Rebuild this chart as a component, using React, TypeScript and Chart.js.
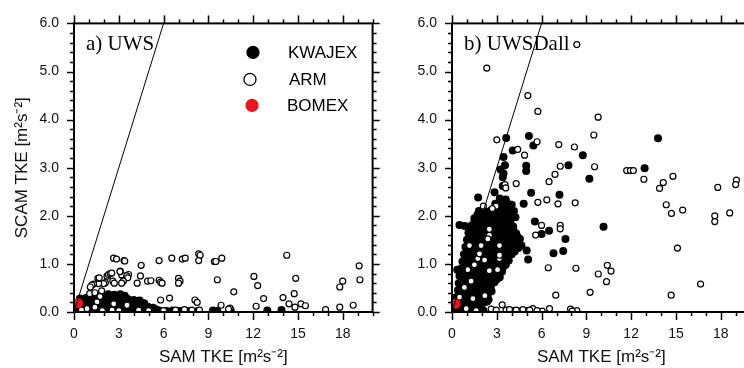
import React, { useEffect, useRef } from 'react';
import { Chart, registerables } from 'chart.js';

Chart.register(...registerables);

// ---------- data ----------
const X_TICKS = [0, 3, 6, 9, 12, 15, 18];
const Y_TICKS = [0, 1, 2, 3, 4, 5, 6];
const X_MIN = 0;
const X_MAX = 20;
const Y_MIN = 0;
const Y_MAX = 6;
const X_TITLE = 'SAM TKE [m²s⁻²]';
const Y_TITLE = 'SCAM TKE [m²s⁻²]';
const PANEL_TITLES = ['a) UWS', 'b) UWSDall'];
const LEGEND_LABELS = ['KWAJEX', 'ARM', 'BOMEX'];
const ONE_TO_ONE: [number, number][] = [[0, 0], [6, 6]];

const UWS_KWAJEX: [number, number][] = [
  [0.1, 0.03], [0.5, 0.02], [0.9, 0.04], [1.3, 0.03], [1.7, 0.02], [2.1, 0.04], [2.5, 0.03], [2.9, 0.02],
  [3.3, 0.04], [3.7, 0.03], [4.1, 0.02], [4.5, 0.04], [4.9, 0.03], [5.3, 0.02], [5.7, 0.03], [6.2, 0.02],
  [6.6, 0.03], [7.1, 0.02], [7.6, 0.02], [8.3, 0.02], [9.3, 0.03], [9.6, 0.02], [10.5, 0.03], [12.95, 0.03], [13.9, 0.04],
  [0.3, 0.07], [0.7, 0.08], [1.1, 0.07], [1.5, 0.08], [1.9, 0.07], [2.3, 0.08], [2.7, 0.07], [3.1, 0.08],
  [3.5, 0.07], [3.9, 0.08], [4.3, 0.07], [4.7, 0.08], [5.1, 0.06], [5.5, 0.05],
  [0.15, 0.12], [0.55, 0.11], [0.95, 0.13], [1.35, 0.12], [1.75, 0.11], [2.15, 0.13], [2.55, 0.12], [2.95, 0.11],
  [3.35, 0.13], [3.75, 0.12], [4.15, 0.11], [4.55, 0.13], [4.95, 0.11], [5.3, 0.09],
  [0.35, 0.16], [0.75, 0.17], [1.15, 0.16], [1.55, 0.17], [1.95, 0.16], [2.35, 0.17], [2.75, 0.16], [3.15, 0.17],
  [3.55, 0.16], [3.95, 0.17], [4.35, 0.16], [4.75, 0.14],
  [0.3, 0.21], [0.7, 0.2], [1.1, 0.22], [1.5, 0.21], [1.9, 0.2], [2.3, 0.22], [2.7, 0.21], [3.1, 0.22],
  [3.5, 0.2], [3.9, 0.21], [4.3, 0.22], [4.7, 0.18],
  [0.55, 0.25], [0.95, 0.26], [1.35, 0.25], [1.75, 0.26], [2.15, 0.25], [2.55, 0.26], [2.95, 0.25], [3.35, 0.26],
  [3.75, 0.24], [4.15, 0.23],
  [0.4, 0.28], [0.8, 0.29], [1.2, 0.28], [1.6, 0.3], [2.0, 0.29], [2.4, 0.31], [2.8, 0.3], [3.2, 0.29],
  [3.6, 0.27], [4.0, 0.25], [4.4, 0.24],
  [1.0, 0.32], [1.4, 0.33], [2.1, 0.33], [2.5, 0.34], [2.9, 0.33], [3.3, 0.32],
  [1.9, 0.35], [2.3, 0.37], [2.7, 0.36], [3.1, 0.37], [3.4, 0.34],
];

const UWS_ARM: [number, number][] = [
  [2.65, 1.12], [2.85, 1.1], [3.35, 1.07], [3.4, 1.06], [4.5, 0.97], [5.7, 1.07], [6.55, 1.12], [7.25, 1.1],
  [7.45, 1.12], [8.35, 1.21], [8.45, 1.18], [8.35, 1.07], [9.4, 1.05], [9.5, 1.05], [9.9, 1.12], [14.25, 1.18],
  [19.1, 0.96], [19.15, 0.67], [18.0, 0.64], [17.8, 0.52], [14.85, 0.7], [12.05, 0.74], [12.3, 0.55], [10.7, 0.42],
  [9.6, 0.67], [7.0, 0.7], [7.1, 0.64], [7.0, 0.6], [5.7, 0.66], [5.8, 0.62], [5.9, 0.6], [4.93, 0.64],
  [5.15, 0.65], [4.45, 0.75], [4.23, 0.6], [3.2, 0.77], [3.65, 0.78], [3.53, 0.75], [3.6, 0.71], [3.3, 0.64],
  [3.19, 0.6], [3.1, 0.85], [3.08, 0.84], [2.21, 0.745], [2.3, 0.78], [2.42, 0.8], [2.53, 0.81], [2.6, 0.64],
  [2.7, 0.6], [2.1, 0.61], [1.99, 0.59], [1.65, 0.59], [1.6, 0.7], [1.69, 0.71], [1.31, 0.58], [1.2, 0.56],
  [1.09, 0.52], [1.85, 0.44], [1.05, 0.38], [1.4, 0.4], [1.74, 0.32],
  [5.8, 0.25], [6.4, 0.29], [8.1, 0.25], [8.25, 0.2], [9.85, 0.14], [10.45, 0.08], [10.35, 0.06], [12.7, 0.28],
  [12.2, 0.12], [14.0, 0.3], [14.75, 0.38], [14.4, 0.17], [14.8, 0.1], [15.2, 0.17], [15.5, 0.13], [16.85, 0.05],
  [17.8, 0.1], [18.7, 0.14], [7.4, 0.05], [7.9, 0.04], [8.4, 0.04], [1.54, 0.21], [2.66, 0.17], [3.55, 0.14],
  [0.87, 0.07], [2.55, 0.04], [4.33, 0.04], [1.4, 0.1], [5.0, 0.03], [6.0, 0.03], [6.8, 0.04], [3.0, 0.03],
  [1.9, 0.03], [0.5, 0.04],
];

const UWS_BOMEX: [number, number][] = [[0.28, 0.18]];

const UWSDALL_KWAJEX: [number, number][] = [
  [0.1, 0.03], [0.5, 0.04], [0.9, 0.02], [1.3, 0.03], [1.7, 0.04], [2.1, 0.03],
  [0.3, 0.09], [0.7, 0.08], [1.1, 0.1], [1.5, 0.09], [1.9, 0.08],
  [0.3, 0.15], [0.7, 0.14], [1.1, 0.16], [1.5, 0.15], [1.9, 0.14], [2.15, 0.2],
  [0.45, 0.22], [0.85, 0.23], [1.25, 0.21], [1.65, 0.22], [2.05, 0.23], [2.35, 0.22],
  [0.25, 0.3], [0.65, 0.29], [1.05, 0.31], [1.45, 0.3], [1.85, 0.29], [2.25, 0.31], [2.45, 0.26],
  [0.45, 0.37], [0.85, 0.38], [1.25, 0.36], [1.65, 0.37], [2.05, 0.38], [2.4, 0.37],
  [0.4, 0.45], [0.8, 0.44], [1.2, 0.46], [1.6, 0.45], [2.0, 0.44], [2.4, 0.46], [2.65, 0.43],
  [0.6, 0.52], [1.0, 0.53], [1.4, 0.51], [1.8, 0.52], [2.2, 0.53], [2.6, 0.52],
  [0.45, 0.6], [0.85, 0.61], [1.25, 0.59], [1.65, 0.6], [2.05, 0.61], [2.45, 0.59], [2.85, 0.62],
  [0.65, 0.67], [1.05, 0.68], [1.45, 0.66], [1.85, 0.67], [2.25, 0.68], [2.65, 0.66], [3.0, 0.68],
  [0.5, 0.75], [0.9, 0.76], [1.3, 0.74], [1.7, 0.75], [2.1, 0.76], [2.5, 0.74], [2.9, 0.75], [3.2, 0.72],
  [0.7, 0.82], [1.1, 0.83], [1.5, 0.81], [1.9, 0.82], [2.3, 0.83], [2.7, 0.81], [3.1, 0.82], [3.35, 0.84],
  [0.35, 0.88], [0.6, 0.9], [1.0, 0.91], [1.4, 0.89], [1.8, 0.9], [2.2, 0.91], [2.6, 0.89], [3.0, 0.9], [3.4, 0.92],
  [0.8, 0.97], [1.2, 0.98], [1.6, 0.96], [2.0, 0.97], [2.4, 0.98], [2.8, 0.96], [3.2, 0.97], [3.6, 0.98],
  [0.7, 1.05], [1.1, 1.04], [1.5, 1.06], [1.9, 1.05], [2.3, 1.04], [2.7, 1.06], [3.1, 1.05], [3.5, 1.04], [3.8, 1.07],
  [0.9, 1.12], [1.3, 1.13], [1.7, 1.11], [2.1, 1.12], [2.5, 1.13], [2.9, 1.11], [3.3, 1.12], [3.7, 1.13],
  [0.8, 1.2], [1.2, 1.21], [1.6, 1.19], [2.0, 1.2], [2.4, 1.21], [2.8, 1.19], [3.2, 1.2], [3.6, 1.22], [4.0, 1.2],
  [1.0, 1.27], [1.4, 1.28], [1.8, 1.26], [2.2, 1.27], [2.6, 1.28], [3.0, 1.26], [3.4, 1.27], [3.8, 1.28], [4.2, 1.26],
  [0.9, 1.35], [1.3, 1.34], [1.7, 1.36], [2.1, 1.35], [2.5, 1.34], [2.9, 1.36], [3.3, 1.35], [3.7, 1.34], [4.1, 1.36], [4.45, 1.33],
  [1.1, 1.42], [1.5, 1.43], [1.9, 1.41], [2.3, 1.42], [2.7, 1.43], [3.1, 1.41], [3.5, 1.42], [3.9, 1.43], [4.3, 1.41],
  [1.0, 1.5], [1.4, 1.51], [1.8, 1.49], [2.2, 1.5], [2.6, 1.51], [3.0, 1.49], [3.4, 1.5], [3.8, 1.51], [4.2, 1.49], [4.55, 1.52],
  [1.2, 1.57], [1.6, 1.58], [2.0, 1.56], [2.4, 1.57], [2.8, 1.58], [3.2, 1.56], [3.6, 1.57], [4.0, 1.58], [4.4, 1.56],
  [1.1, 1.65], [1.5, 1.64], [1.9, 1.66], [2.3, 1.65], [2.7, 1.64], [3.1, 1.66], [3.5, 1.65], [3.9, 1.64], [4.3, 1.63],
  [1.3, 1.72], [1.7, 1.73], [2.1, 1.71], [2.5, 1.72], [2.9, 1.73], [3.3, 1.71], [3.7, 1.72], [4.1, 1.73],
  [0.5, 1.81], [0.85, 1.79], [1.3, 1.8], [1.7, 1.81], [2.1, 1.79], [2.5, 1.8], [2.9, 1.81], [3.3, 1.79], [3.7, 1.8], [4.1, 1.78],
  [1.5, 1.87], [1.9, 1.88], [2.3, 1.86], [2.7, 1.87], [3.1, 1.88], [3.5, 1.86], [3.9, 1.87],
  [1.5, 1.95], [1.9, 1.94], [2.3, 1.96], [2.7, 1.95], [3.1, 1.94], [3.5, 1.96], [3.9, 1.95], [4.25, 1.97],
  [1.7, 2.02], [2.0, 2.03], [2.4, 2.01], [2.8, 2.02], [3.2, 2.03], [3.6, 2.01], [4.0, 2.02],
  [1.8, 2.1], [2.2, 2.09], [2.6, 2.11], [3.0, 2.1], [3.4, 2.09], [3.8, 2.11], [4.15, 2.1],
  [3.1, 2.17], [3.5, 2.18], [3.9, 2.16],
  [2.9, 2.25], [3.3, 2.24], [3.7, 2.26], [4.0, 2.23],
  [1.75, 2.38], [3.2, 2.36], [3.6, 2.34],
  [3.63, 3.62], [5.15, 3.66], [5.45, 3.46], [4.07, 3.36], [3.45, 3.22], [3.25, 2.96], [3.45, 2.88], [3.4, 2.8],
  [3.4, 2.62], [2.85, 2.49], [3.55, 3.05], [8.76, 3.26], [7.8, 3.05], [4.97, 3.04], [4.97, 2.93], [9.2, 2.77],
  [12.9, 2.99], [13.8, 3.61], [5.3, 2.48], [4.8, 2.25], [7.2, 2.44], [5.55, 1.88], [6.0, 1.62], [6.5, 1.69],
  [7.6, 1.52], [7.45, 1.27], [6.8, 1.22], [10.15, 1.77], [5.1, 1.09], [5.0, 1.28], [4.65, 1.38],
];

const UWSDALL_ARM: [number, number][] = [
  [8.36, 5.56], [2.33, 5.07], [5.08, 4.5], [5.75, 4.17], [9.79, 4.05], [3.0, 3.58], [5.7, 3.54], [7.15, 3.48],
  [8.2, 3.43], [9.5, 3.68], [4.4, 3.38], [4.86, 3.26], [4.3, 2.67], [3.55, 2.65], [3.6, 2.58], [9.55, 3.02],
  [7.25, 3.03], [6.9, 2.86], [6.5, 2.71], [11.7, 2.94], [11.95, 2.94], [12.15, 2.94], [12.85, 2.76], [14.15, 2.69],
  [13.9, 2.57], [14.8, 2.82], [14.35, 2.23], [14.7, 2.05], [15.45, 2.12], [17.8, 2.59], [19.05, 2.74], [19.0, 2.65],
  [17.6, 2.0], [17.6, 1.88], [18.6, 2.06], [15.1, 1.33], [16.65, 0.58], [14.68, 0.35], [5.75, 2.28], [6.35, 2.33],
  [7.1, 2.25], [8.25, 2.27], [6.0, 1.8], [7.25, 1.8], [7.25, 1.73], [5.6, 1.6], [6.45, 0.92], [8.3, 0.91],
  [9.8, 0.79], [10.4, 0.97], [10.65, 0.85], [10.35, 0.63], [6.95, 0.35], [9.25, 0.41], [2.95, 2.2], [2.7, 2.15],
  [2.1, 2.2],
  [2.5, 1.72], [2.5, 1.59], [1.17, 1.38], [1.95, 1.38], [3.18, 1.38], [1.73, 1.11], [2.18, 1.08], [1.5, 0.98],
  [1.05, 0.88], [3.17, 1.11], [3.05, 0.88], [2.5, 0.86], [1.28, 0.64], [0.83, 0.51], [0.5, 0.31], [1.4, 0.28],
  [2.2, 0.34], [2.4, 1.52], [1.84, 1.21], [3.18, 1.18],
  [0.95, 0.07], [1.62, 0.03], [2.62, 0.06], [3.36, 0.15], [3.63, 0.04], [4.07, 0.03], [4.52, 0.02], [4.97, 0.03],
  [5.41, 0.07], [6.04, 0.02], [6.53, 0.07], [7.94, 0.06], [8.36, 0.03], [2.96, 0.04], [3.85, 0.05], [4.3, 0.04],
  [4.75, 0.05], [5.2, 0.04], [5.7, 0.03], [8.05, 0.02],
];

const UWSDALL_BOMEX: [number, number][] = [[0.25, 0.17]];

// ---------- styling ----------
const FONT = '"Liberation Sans", Arial, Helvetica, sans-serif';
const SERIF = '"Liberation Serif", "Times New Roman", serif';
const RED = '#e5181f';

const toXY = (arr: [number, number][]) => arr.map(([x, y]) => ({ x, y }));

const decoPlugin = {
  id: 'deco',
  afterDatasetsDraw(chart: any, _args: any, opts: any) {
    const { ctx, chartArea: a } = chart;
    const xs = chart.scales.x;
    const ys = chart.scales.y;
    ctx.save();
    ctx.strokeStyle = '#000';
    ctx.lineCap = 'butt';
    ctx.lineWidth = 2;
    ctx.strokeRect(a.left, a.top, a.right - a.left, a.bottom - a.top);
    ctx.lineWidth = 1.5;
    const seg = (x1: number, y1: number, x2: number, y2: number) => {
      ctx.beginPath();
      ctx.moveTo(x1, y1);
      ctx.lineTo(x2, y2);
      ctx.stroke();
    };
    for (let v = X_MIN; v <= X_MAX; v += 1) {
      const px = Math.round(xs.getPixelForValue(v)) + 0.5;
      const major = X_TICKS.includes(v);
      const len = major ? 8 : 4;
      seg(px, a.bottom, px, a.bottom + len);
      seg(px, a.top, px, a.top - len);
    }
    for (let i = 0; i <= Math.round((Y_MAX - Y_MIN) / 0.2); i++) {
      const v = Y_MIN + i * 0.2;
      const py = Math.round(ys.getPixelForValue(v)) + 0.5;
      const major = i % 5 === 0;
      const len = major ? 7 : 4;
      seg(a.left, py, a.left - len, py);
      seg(a.right, py, a.right + len, py);
    }
    ctx.fillStyle = '#000';
    ctx.font = `21px ${SERIF}`;
    ctx.textAlign = 'left';
    ctx.textBaseline = 'alphabetic';
    ctx.fillText(opts.title, a.left + 12, a.top + 27);
    if (opts.legend) {
      const items = [
        { fill: '#000', stroke: '#000', dx: 179, dy: 29, tx: 214 },
        { fill: '#fff', stroke: '#000', dx: 176, dy: 56, tx: 215 },
        { fill: RED, stroke: RED, dx: 178, dy: 82, tx: 213 },
      ];
      ctx.font = `17px ${FONT}`;
      ctx.textBaseline = 'middle';
      items.forEach((it, i) => {
        ctx.beginPath();
        ctx.arc(a.left + it.dx, a.top + it.dy, 6, 0, Math.PI * 2);
        ctx.fillStyle = it.fill;
        ctx.fill();
        ctx.lineWidth = 1.3;
        ctx.strokeStyle = it.stroke;
        ctx.stroke();
        ctx.fillStyle = '#000';
        ctx.fillText(LEGEND_LABELS[i], a.left + it.tx, a.top + it.dy + 1);
      });
    }
    ctx.restore();
  },
};

function makeConfig(panel: number): any {
  const kw = panel === 0 ? UWS_KWAJEX : UWSDALL_KWAJEX;
  const arm = panel === 0 ? UWS_ARM : UWSDALL_ARM;
  const bo = panel === 0 ? UWS_BOMEX : UWSDALL_BOMEX;
  return {
    type: 'scatter',
    data: {
      datasets: [
        {
          label: '1:1',
          data: toXY(ONE_TO_ONE),
          showLine: true,
          borderColor: '#000',
          borderWidth: 1,
          pointRadius: 0,
        },
        {
          label: LEGEND_LABELS[2],
          data: toXY(bo),
          backgroundColor: RED,
          borderColor: RED,
          borderWidth: 0,
          pointRadius: 5,
          clip: false,
        },
        {
          label: LEGEND_LABELS[1],
          data: toXY(arm),
          backgroundColor: '#fff',
          borderColor: '#000',
          borderWidth: 1.2,
          pointRadius: 3,
        },
        {
          label: LEGEND_LABELS[0],
          data: toXY(kw),
          backgroundColor: '#000',
          borderColor: '#000',
          borderWidth: 0,
          pointRadius: 4,
        },
      ],
    },
    options: {
      responsive: false,
      animation: false,
      events: [],
      devicePixelRatio: 1,
      layout: { padding: { left: 0, top: 14, right: 7.4, bottom: 0 } },
      plugins: {
        legend: { display: false },
        tooltip: { enabled: false },
        deco: { title: PANEL_TITLES[panel], legend: panel === 0 },
      },
      scales: {
        x: {
          type: 'linear',
          min: X_MIN,
          max: X_MAX,
          afterBuildTicks: (s: any) => {
            s.ticks = X_TICKS.map((v) => ({ value: v }));
          },
          afterFit: (s: any) => {
            s.height = 56;
          },
          grid: { display: false, drawTicks: false },
          border: { display: false },
          ticks: {
            autoSkip: false,
            maxRotation: 0,
            padding: 14,
            color: '#111',
            font: { family: FONT, size: 14 },
            callback: (v: any) => String(v),
          },
          title: {
            display: true,
            text: X_TITLE,
            color: '#111',
            font: { family: FONT, size: 17 },
            padding: { top: 0, bottom: 0 },
          },
        },
        y: {
          type: 'linear',
          min: Y_MIN,
          max: Y_MAX,
          afterBuildTicks: (s: any) => {
            s.ticks = Y_TICKS.map((v) => ({ value: v }));
          },
          afterFit: (s: any) => {
            s.width = 74;
          },
          grid: { display: false, drawTicks: false },
          border: { display: false },
          ticks: {
            autoSkip: false,
            padding: 15,
            color: '#111',
            font: { family: FONT, size: 14 },
            callback: (v: any) => Number(v).toFixed(1),
          },
          title: {
            display: panel === 0,
            text: Y_TITLE,
            color: '#111',
            font: { family: FONT, size: 17 },
            padding: { top: 12, bottom: 0 },
          },
        },
      },
    },
    plugins: [decoPlugin],
  };
}

function Panel({ panel, left }: { panel: number; left: number }) {
  const ref = useRef<HTMLCanvasElement | null>(null);
  useEffect(() => {
    if (!ref.current) return;
    const chart = new Chart(ref.current, makeConfig(panel));
    return () => chart.destroy();
  }, [panel]);
  return (
    <canvas
      ref={ref}
      width={380}
      height={368}
      style={{ position: 'absolute', left, top: 0, width: 380, height: 368 }}
    />
  );
}

export default function App() {
  return (
    <div
      style={{
        position: 'fixed',
        left: 0,
        top: 0,
        width: 744,
        height: 368,
        overflow: 'hidden',
        background: '#fff',
      }}
    >
      <Panel panel={0} left={0} />
      <Panel panel={1} left={378} />
    </div>
  );
}
